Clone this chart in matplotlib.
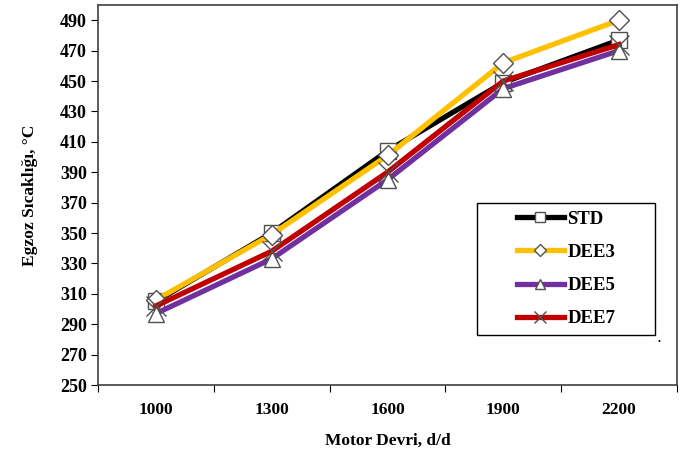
import numpy as np
import matplotlib.pyplot as plt
from matplotlib.patches import Rectangle

# Egzoz sıcaklığı, motor devrine göre
devir = ['1000', '1300', '1600', '1900', '2200']
std = [305, 350, 404, 449, 477]
dee3 = [306, 349, 401, 462, 490]
dee5 = [297, 333, 385, 445, 470]
dee7 = [302, 338, 390, 450, 474]

plt.rcParams['font.family'] = ['Liberation Serif', 'DejaVu Serif']
plt.rcParams['font.weight'] = 'bold'

fig = plt.figure(figsize=(6.88, 4.54), dpi=100)
ax = fig.add_axes([98 / 688, 1 - 385 / 454, 579 / 688, 380 / 454])

x = np.arange(len(devir))
seriler = [
    ('STD', std, 'black', 's', 11),
    ('DEE3', dee3, '#FFC000', 'D', 10),
    ('DEE5', dee5, '#7030A0', '^', 12),
    ('DEE7', dee7, '#C00000', 'x', 14),
]
for ad, y, renk, m, boy in seriler:
    ax.plot(x, y, color=renk, lw=3.8, label=ad, marker=m, ms=boy,
            mfc='white', mec='#505050', mew=1.0)

ax.set_xlim(-0.5, len(devir) - 0.5)
ax.set_ylim(250, 500)
ax.set_yticks(np.arange(250, 491, 20))
ax.tick_params(axis='y', direction='out', length=5, labelsize=13, pad=3)

# kategori ekseni: çentikler kategori sınırlarında
ax.set_xticks(np.arange(-0.5, len(devir), 1.0))
ax.set_xticklabels([])
ax.tick_params(axis='x', which='major', direction='out', length=5)
ax.set_xticks(x, minor=True)
ax.set_xticklabels(devir, minor=True, fontsize=12.5, fontweight='bold')
ax.tick_params(axis='x', which='minor', length=0, pad=12)

for s in ax.spines.values():
    s.set_color('#404040')
    s.set_linewidth(1.2)

ax.set_xlabel('Motor Devri, d/d', fontsize=12.5, fontweight='bold', labelpad=11)
ax.set_ylabel('Egzoz Sıcaklığı, °C', fontsize=12.5, fontweight='bold', labelpad=16)

# lejant çerçevesi ayrı çiziliyor, girdiler ortada
kutu = (379 / 579, 50 / 380, 178 / 579, 132 / 380)
ax.add_patch(Rectangle(kutu[:2], kutu[2], kutu[3], transform=ax.transAxes,
                       fill=True, fc='white', ec='black', lw=1.0, zorder=5))
leg = ax.legend(loc='center', bbox_to_anchor=(kutu[0] + kutu[2] / 2, kutu[1] + kutu[3] / 2),
                frameon=False, handlelength=2.5, handletextpad=0.2, labelspacing=0.85,
                prop={'family': 'Liberation Serif', 'weight': 'bold', 'size': 13.5},
                markerscale=0.6)
leg.set_zorder(6)

fig.text(658 / 688, 1 - 342 / 454, '.', fontsize=9)

fig.savefig('out.png', dpi=100)
